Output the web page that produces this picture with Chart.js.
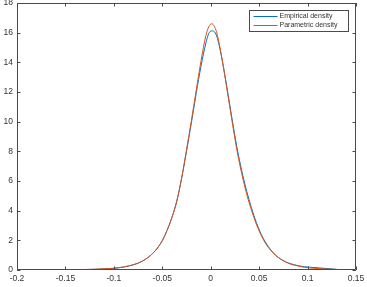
<!DOCTYPE html>
<html>
<head>
<meta charset="utf-8">
<script src="https://cdn.jsdelivr.net/npm/chart.js@4/dist/chart.umd.min.js"></script>
<style>
  html, body { margin: 0; padding: 0; background: #fff; }
  #wrap { width: 367px; height: 287px; position: relative; }
</style>
</head>
<body>
<div id="wrap"><canvas id="densityChart"></canvas></div>
<script>
const seriesNames = ['Empirical density', 'Parametric density']
const seriesColors = ['#0072BD', '#D95319']

const empX = [-0.165, -0.16, -0.15, -0.14, -0.13, -0.12, -0.11, -0.1, -0.095, -0.09, -0.085, -0.08, -0.075, -0.07,
  -0.065, -0.06, -0.055, -0.05, -0.045, -0.04, -0.035, -0.03, -0.025, -0.02, -0.015, -0.01, -0.005, -0.002,
  0.001, 0.004, 0.007, 0.012, 0.017, 0.022, 0.027, 0.032, 0.037, 0.042, 0.047, 0.052, 0.057, 0.062, 0.067,
  0.072, 0.077, 0.082, 0.087, 0.092, 0.097, 0.102, 0.112, 0.122, 0.132]
const empY = [0.005, 0.008, 0.012, 0.02, 0.03, 0.045, 0.07, 0.11, 0.15, 0.2, 0.27, 0.35, 0.46, 0.62,
  0.83, 1.11, 1.48, 1.98, 2.68, 3.55, 4.65, 6.2, 8.0, 9.9, 11.9, 13.75, 15.3, 15.95,
  16.12, 16.05, 15.6, 14.1, 12.2, 10.2, 8.3, 6.7, 5.35, 4.2, 3.22, 2.42, 1.82, 1.36, 1.0,
  0.75, 0.56, 0.43, 0.34, 0.27, 0.22, 0.19, 0.14, 0.09, 0.03]

const parX = [-0.165, -0.16, -0.15, -0.14, -0.13, -0.12, -0.11, -0.1, -0.095, -0.09, -0.085, -0.08, -0.075, -0.07,
  -0.065, -0.06, -0.055, -0.05, -0.045, -0.04, -0.035, -0.03, -0.025, -0.02, -0.015, -0.01, -0.005, -0.002,
  0.001, 0.004, 0.007, 0.012, 0.017, 0.022, 0.027, 0.032, 0.037, 0.042, 0.047, 0.052, 0.057, 0.062, 0.067,
  0.072, 0.077, 0.082, 0.087, 0.092, 0.097, 0.102, 0.112, 0.122, 0.13]
const parY = [0.01, 0.012, 0.018, 0.025, 0.035, 0.05, 0.08, 0.12, 0.16, 0.2, 0.27, 0.35, 0.46, 0.62,
  0.83, 1.11, 1.48, 1.98, 2.68, 3.55, 4.65, 6.2, 8.1, 10.05, 12.1, 14.1, 15.8, 16.4,
  16.6, 16.4, 15.8, 14.1, 12.1, 10.05, 8.1, 6.5, 5.15, 4.05, 3.1, 2.35, 1.75, 1.32, 0.99,
  0.74, 0.55, 0.41, 0.32, 0.24, 0.18, 0.14, 0.09, 0.055, 0.04]

const xTicks = [-0.2, -0.15, -0.1, -0.05, 0, 0.05, 0.1, 0.15]
const xTickLabels = ['-0.2', '-0.15', '-0.1', '-0.05', '0', '0.05', '0.1', '0.15']
const yTicks = [0, 2, 4, 6, 8, 10, 12, 14, 16, 18]

const axisColor = '#4a4a4a'
const labelColor = '#333'
const font = 'Liberation Sans, Arial, Helvetica, sans-serif'

function points(xs, ys) {
  return xs.map((x, i) => ({ x: x, y: ys[i] }))
}

// matlab style box, inward ticks and legend
const matlabBox = {
  id: 'matlabBox',
  afterDraw(chart) {
    const ctx = chart.ctx
    const a = chart.chartArea
    const xs = chart.scales.x
    const ys = chart.scales.y
    const tl = 3.5
    ctx.save()
    ctx.strokeStyle = axisColor
    ctx.lineWidth = 1
    ctx.beginPath()
    ctx.rect(a.left + 0.5, a.top + 0.5, a.right - a.left - 1, a.bottom - a.top - 1)
    xTicks.forEach(v => {
      const px = Math.round(xs.getPixelForValue(v)) + 0.5
      ctx.moveTo(px, a.bottom); ctx.lineTo(px, a.bottom - tl)
      ctx.moveTo(px, a.top); ctx.lineTo(px, a.top + tl)
    })
    yTicks.forEach(v => {
      const py = Math.round(ys.getPixelForValue(v)) + 0.5
      ctx.moveTo(a.left, py); ctx.lineTo(a.left + tl, py)
      ctx.moveTo(a.right, py); ctx.lineTo(a.right - tl, py)
    })
    ctx.stroke()

    // legend
    const lx = 249.5, ly = 10.5, lw = 99, lh = 21
    ctx.fillStyle = '#fff'
    ctx.fillRect(lx, ly, lw, lh)
    ctx.strokeStyle = axisColor
    ctx.strokeRect(lx, ly, lw, lh)
    ctx.font = '7px ' + font
    ctx.textBaseline = 'middle'
    seriesNames.forEach((name, i) => {
      const y = ly + 6 + i * 9
      ctx.strokeStyle = seriesColors[i]
      ctx.beginPath()
      ctx.moveTo(lx + 4, y); ctx.lineTo(lx + 28, y)
      ctx.stroke()
      ctx.fillStyle = labelColor
      ctx.fillText(name, lx + 30, y)
    })
    ctx.restore()
  }
}

let densityChart = new Chart(document.getElementById('densityChart'), {
  type: 'scatter',
  data: {
    datasets: [
      {
        label: seriesNames[0],
        data: points(empX, empY),
        borderColor: seriesColors[0],
        backgroundColor: seriesColors[0],
        order: 1
      },
      {
        label: seriesNames[1],
        data: points(parX, parY),
        borderColor: seriesColors[1],
        backgroundColor: seriesColors[1],
        order: 0
      }
    ]
  },
  options: {
    responsive: true,
    maintainAspectRatio: false,
    animation: false,
    events: [],
    showLine: true,
    elements: {
      point: { radius: 0 },
      line: { borderWidth: 1, cubicInterpolationMode: 'monotone' }
    },
    layout: { padding: { top: 3, right: 11, left: 0, bottom: 0 } },
    plugins: {
      legend: { display: false },
      tooltip: { enabled: false }
    },
    scales: {
      x: {
        type: 'linear',
        min: -0.2,
        max: 0.15,
        afterBuildTicks: axis => { axis.ticks = xTicks.map(v => ({ value: v })) },
        afterFit: axis => {
          axis.height = 17
          axis.paddingLeft = 0
          axis.paddingRight = 0
        },
        grid: { display: false, drawTicks: false },
        border: { display: false },
        ticks: {
          padding: 4,
          maxRotation: 0,
          autoSkip: false,
          color: labelColor,
          font: { family: font, size: 8.5 },
          callback: (v, i) => xTickLabels[i]
        }
      },
      y: {
        type: 'linear',
        min: 0,
        max: 18,
        afterBuildTicks: axis => { axis.ticks = yTicks.map(v => ({ value: v })) },
        afterFit: axis => {
          axis.width = 17
          axis.paddingTop = 0
          axis.paddingBottom = 0
        },
        grid: { display: false, drawTicks: false },
        border: { display: false },
        ticks: {
          padding: 4,
          autoSkip: false,
          color: labelColor,
          font: { family: font, size: 8.5 }
        }
      }
    }
  },
  plugins: [matlabBox]
});
</script>
</body>
</html>
